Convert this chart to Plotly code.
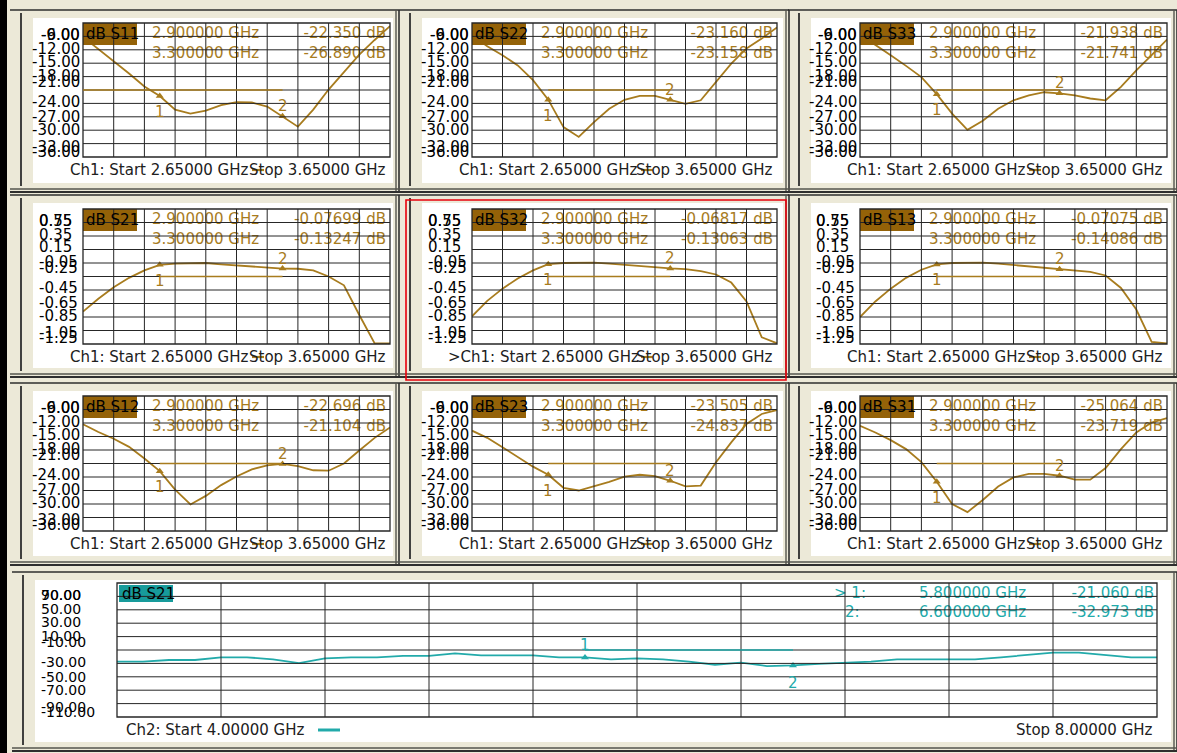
import plotly.graph_objects as go

W, H = 1177, 753

# ---------------- data ----------------
freq_ch1 = [2.65, 2.70, 2.75, 2.80, 2.85, 2.90, 2.95, 3.00, 3.05, 3.10, 3.15,
            3.20, 3.25, 3.30, 3.35, 3.40, 3.45, 3.50, 3.55, 3.60, 3.65]
s11_db = [-9.1, -11.8, -14.6, -17.3, -20.2, -22.35, -25.4, -26.3, -25.6, -24.4, -23.7,
          -23.8, -24.7, -26.89, -29.2, -25.4, -20.9, -17.0, -13.1, -9.8, -6.7]
s22_db = [-8.7, -11.2, -13.2, -15.5, -18.8, -23.16, -29.3, -31.5, -28.2, -25.2, -23.2,
          -22.3, -22.3, -23.16, -24.1, -23.3, -19.2, -15.1, -11.7, -9.5, -7.0]
s33_db = [-8.6, -10.8, -13.2, -15.6, -18.1, -21.94, -26.3, -29.9, -27.9, -25.2, -23.3,
          -22.2, -21.5, -21.74, -22.2, -22.9, -23.3, -20.3, -16.6, -13.2, -9.7]
s21_db = [-0.77, -0.58, -0.41, -0.27, -0.16, -0.077, -0.06, -0.05, -0.05, -0.07, -0.085,
          -0.10, -0.11, -0.132, -0.135, -0.16, -0.25, -0.38, -0.82, -1.24, -1.24]
s32_db = [-0.84, -0.61, -0.43, -0.28, -0.16, -0.068, -0.05, -0.045, -0.045, -0.06, -0.08,
          -0.10, -0.115, -0.131, -0.14, -0.17, -0.22, -0.34, -0.62, -1.15, -1.24]
s13_db = [-0.85, -0.62, -0.43, -0.27, -0.15, -0.071, -0.05, -0.045, -0.045, -0.06, -0.08,
          -0.10, -0.12, -0.141, -0.15, -0.18, -0.235, -0.42, -0.74, -1.22, -1.24]
s12_db = [-12.3, -14.0, -15.5, -17.3, -19.9, -22.70, -26.8, -30.1, -28.2, -25.8, -23.9,
          -22.3, -21.4, -21.10, -21.6, -22.5, -22.6, -21.0, -18.1, -15.3, -13.0]
s23_db = [-13.7, -15.3, -17.4, -19.5, -21.7, -23.51, -26.4, -27.0, -26.1, -25.1, -23.9,
          -23.5, -23.8, -24.84, -26.1, -25.9, -20.7, -16.3, -12.2, -10.0, -9.1]
s31_db = [-12.6, -14.1, -15.8, -17.8, -20.7, -25.06, -30.0, -31.8, -29.1, -26.1, -24.1,
          -23.3, -23.3, -23.72, -24.6, -24.6, -22.0, -17.8, -14.1, -11.9, -10.9]

freq_ch2 = [4.0, 4.1, 4.2, 4.3, 4.4, 4.5, 4.6, 4.7, 4.8, 4.9, 5.0, 5.1, 5.2, 5.3,
            5.4, 5.5, 5.6, 5.7, 5.8, 5.9, 6.0, 6.1, 6.2, 6.3, 6.4, 6.5, 6.6, 6.7,
            6.8, 6.9, 7.0, 7.1, 7.2, 7.3, 7.4, 7.5, 7.6, 7.7, 7.8, 7.9, 8.0]
s21_ch2_db = [-27.3, -27.3, -24.9, -24.9, -20.9, -20.9, -23.9, -29.5, -22.5, -20.9, -20.9,
              -18.9, -18.9, -14.9, -17.9, -17.9, -17.9, -20.9, -21.06, -23.9, -22.5, -23.9,
              -27.3, -32.0, -28.8, -34.0, -32.97, -30.8, -29.0, -27.3, -23.9, -23.9, -23.9,
              -23.9, -20.9, -17.4, -14.0, -14.0, -17.4, -20.9, -20.9]

marker_freq_ch1 = [2.9, 3.3]
marker_freq_ch2 = [5.8, 6.6]
marker_text_ch1 = ["2.900000 GHz", "3.300000 GHz"]
marker_text_ch2 = ["5.800000 GHz", "6.600000 GHz"]
readout_s11 = ["-22.350 dB", "-26.890 dB"]
readout_s22 = ["-23.160 dB", "-23.158 dB"]
readout_s33 = ["-21.938 dB", "-21.741 dB"]
readout_s21 = ["-0.07699 dB", "-0.13247 dB"]
readout_s32 = ["-0.06817 dB", "-0.13063 dB"]
readout_s13 = ["-0.07075 dB", "-0.14086 dB"]
readout_s12 = ["-22.696 dB", "-21.104 dB"]
readout_s23 = ["-23.505 dB", "-24.837 dB"]
readout_s31 = ["-25.064 dB", "-23.719 dB"]
readout_ch2 = ["-21.060 dB", "-32.973 dB"]

db_tick_labels = ["-6.00", "-9.00", "-12.00", "-15.00", "-18.00", "-21.00",
                  "-24.00", "-27.00", "-30.00", "-33.00", "-36.00"]
lin_tick_labels = ["0.75", "0.55", "0.35", "0.15", "-0.05", "-0.25",
                   "-0.45", "-0.65", "-0.85", "-1.05", "-1.25"]
ch2_tick_labels = ["90.00", "70.00", "50.00", "30.00", "10.00", "-10.00",
                   "-30.00", "-50.00", "-70.00", "-90.00", "-110.00"]

ch1_start = "Ch1: Start 2.65000 GHz"
ch1_stop = "Stop 3.65000 GHz"
ch2_start = "Ch2: Start 4.00000 GHz"
ch2_stop = "Stop 8.00000 GHz"

# ---------------- styling / layout geometry ----------------
FONT = "DejaVu Sans, Verdana, sans-serif"
BEIGE = "#ECE9D8"
GOLD = "#A87C1E"
GOLD_BOX = "#946208"
TEAL = "#22AAAA"
TEAL_BOX = "#179B9B"
GRID = "#262626"
FRAME = "#55554E"
DARK = "#2E2E2E"

col_grid = [(83, 390), (472, 777), (860, 1167)]
row_grid = [(23, 157), (209, 344), (396, 531)]
col_white = [(33, 393), (422, 783), (811, 1171)]
row_white = [(18, 183), (203, 368), (391, 556)]
bot_grid = ((117, 1157), (583, 717))
bot_white = ((35, 1171), (580, 742))
label_offsets = [12, 12, 26, 38.5, 53, 58.5, 79, 94, 106.5, 123.5, 128.5]


def X(p):
    return p / W


def Y(p):
    return 1 - p / H


fig = go.Figure()
shapes, annots, axes = [], [], {}


def pline(x0, y0, x1, y1, color, width=1, layer="below"):
    shapes.append(dict(type="line", xref="paper", yref="paper", x0=X(x0), y0=Y(y0),
                       x1=X(x1), y1=Y(y1), line=dict(color=color, width=width), layer=layer))


def prect(x0, y0, x1, y1, fill, lc=None, lw=0, layer="below"):
    shapes.append(dict(type="rect", xref="paper", yref="paper", x0=X(x0), y0=Y(y1),
                       x1=X(x1), y1=Y(y0), fillcolor=fill,
                       line=dict(color=lc if lc else "rgba(0,0,0,0)", width=lw), layer=layer))


def frame(wx, wy):
    wx0, wx1 = wx
    wy0, wy1 = wy
    pline(wx0 - 23, wy0 - 8, wx1 + 6, wy0 - 8, DARK, 1.4)
    pline(wx1 + 3, wy0 - 8, wx1 + 3, wy1 + 9, FRAME, 1.4)
    pline(wx1 + 6, wy0 - 8, wx1 + 6, wy1 + 9, DARK, 1.6)
    pline(wx0 - 23, wy1 + 6, wx1 + 6, wy1 + 6, FRAME, 1.4)
    pline(wx0 - 23, wy1 + 9, wx1 + 6, wy1 + 9, DARK, 1.8)
    pline(wx0 - 12, wy0 - 5, wx0 - 12, wy1 + 3, DARK, 1.8)
    prect(wx0, wy0, wx1, wy1, "#FFFFFF")


def txt(x, y, s, color, size=15, anchor="left"):
    annots.append(dict(xref="paper", yref="paper", x=X(x), y=Y(y), text=s, showarrow=False,
                       xanchor=anchor, yanchor="middle",
                       font=dict(family=FONT, size=size, color=color)))


def add_panel(i, gx, gy, xr, yr, xs, ys, name, mfreqs, mtexts, mvals, ticks, ch,
              ref_start=None, active=False):
    sfx = "" if i == 1 else str(i)
    xa, ya = "x" + sfx, "y" + sfx
    gx0, gx1 = gx
    gy0, gy1 = gy
    axes["xaxis" + sfx] = dict(domain=[X(gx0), X(gx1)], range=list(xr), visible=False,
                               anchor=ya, fixedrange=True)
    axes["yaxis" + sfx] = dict(domain=[Y(gy1), Y(gy0)], range=list(yr), visible=False,
                               anchor=xa, fixedrange=True)

    def dx(p):
        return xr[0] + (p - gx0) / (gx1 - gx0) * (xr[1] - xr[0])

    def dy(p):
        return yr[1] - (p - gy0) / (gy1 - gy0) * (yr[1] - yr[0])

    ref = (yr[0] + yr[1]) / 2
    color = GOLD if ch == 1 else TEAL
    boxc = GOLD_BOX if ch == 1 else TEAL_BOX
    mv = [ys[xs.index(m)] for m in mfreqs]
    common = dict(xaxis=xa, yaxis=ya, hoverinfo="skip", showlegend=False)

    # measurement trace
    fig.add_trace(go.Scatter(x=xs, y=ys, mode="lines",
                             line=dict(color=color, width=1.8), **common))
    # markers
    fig.add_trace(go.Scatter(x=mfreqs, y=mv, mode="markers",
                             marker=dict(symbol="triangle-up", size=7, color=color), **common))
    # reference-level indicators at both sides
    if ch == 1:
        fig.add_trace(go.Scatter(x=[dx(gx0 - 3), dx(gx1 + 3)], y=[ref, ref], mode="markers",
                                 marker=dict(symbol=["triangle-right", "triangle-left"],
                                             size=6, color=color),
                                 cliponaxis=False, **common))
    else:
        fig.add_trace(go.Scatter(x=[dx(gx0 - 4), dx(gx1 + 8)], y=[ref, ref], mode="markers",
                                 marker=dict(symbol="square", size=6, color=color),
                                 cliponaxis=False, **common))

    # marker readouts (drawn as text under the grid lines)
    if ch == 1:
        r1, r2 = gy0 + 11, gy0 + 31
        left_items = [(gx0 + 69, r1, mtexts[0]), (gx0 - 17, r2, ">"), (gx0 - 2, r2, "2:"),
                      (gx0 + 69, r2, mtexts[1])]
        right_items = [(gx1 - 4, r1, mvals[0]), (gx1 - 4, r2, mvals[1])]
        box = (gx0, gy0, gx0 + 54, gy0 + 22)
        boxtext = (gx0 + 1, gy0 + 11)
    else:
        r1, r2 = gy0 + 11, gy0 + 30
        left_items = [(gx0 + 717, r1, "> 1:"), (gx0 + 802, r1, mtexts[0]),
                      (gx0 + 728, r2, "2:"), (gx0 + 802, r2, mtexts[1])]
        right_items = [(gx1 - 3, r1, mvals[0]), (gx1 - 3, r2, mvals[1])]
        box = (gx0 + 2, gy0 + 2, gx0 + 56, gy0 + 19)
        boxtext = (gx0 + 3, gy0 + 10.5)
    fig.add_trace(go.Scatter(x=[dx(a) for a, _, _ in left_items],
                             y=[dy(b) for _, b, _ in left_items],
                             text=[t for _, _, t in left_items], mode="text",
                             textposition="middle right",
                             textfont=dict(family=FONT, size=15, color=color),
                             cliponaxis=False, **common))
    fig.add_trace(go.Scatter(x=[dx(a) for a, _, _ in right_items],
                             y=[dy(b) for _, b, _ in right_items],
                             text=[t for _, _, t in right_items], mode="text",
                             textposition="middle left",
                             textfont=dict(family=FONT, size=15, color=color),
                             cliponaxis=False, **common))

    # parameter box
    shapes.append(dict(type="rect", xref=xa, yref=ya, x0=dx(box[0]), x1=dx(box[2]),
                       y0=dy(box[3]), y1=dy(box[1]), fillcolor=boxc,
                       line=dict(width=0), layer="above"))
    txt(boxtext[0], boxtext[1], "dB " + name, "#000000", 15)

    # grid (inner lines) and frame
    for k in range(1, 10):
        xv = xr[0] + k * (xr[1] - xr[0]) / 10
        yv = yr[0] + k * (yr[1] - yr[0]) / 10
        shapes.append(dict(type="line", xref=xa, yref=ya, x0=xv, x1=xv, y0=yr[0], y1=yr[1],
                           line=dict(color=GRID, width=1), layer="above"))
        shapes.append(dict(type="line", xref=xa, yref=ya, x0=xr[0], x1=xr[1], y0=yv, y1=yv,
                           line=dict(color=GRID, width=1), layer="above"))
    prect(gx0, gy0, gx1, gy1, "rgba(0,0,0,0)", GRID, 1.3, layer="above")

    # reference-level line between markers (drawn over the grid)
    x_start = ref_start if ref_start is not None else mfreqs[0]
    shapes.append(dict(type="line", xref=xa, yref=ya, x0=x_start, x1=mfreqs[1], y0=ref, y1=ref,
                       line=dict(color=color, width=1.6), layer="above"))

    # marker numbers
    shifts = (-16, 10) if ch == 1 else (12, -18)
    for n, (mf, v) in enumerate(zip(mfreqs, mv)):
        annots.append(dict(xref=xa, yref=ya, x=mf, y=v, text=str(n + 1), showarrow=False,
                           yshift=shifts[n], xanchor="center", yanchor="middle",
                           font=dict(family=FONT, size=15, color=color)))

    # scale labels
    for k, t in enumerate(ticks):
        yp = gy0 + label_offsets[k]
        if ch == 2:
            txt(gx0 - 78, yp, t, "#000000", 14, "left")
        elif ticks is lin_tick_labels:
            txt(gx0 - 46, yp, t, "#000000", 15, "left")
        else:
            txt(gx0 - 1, yp, t, "#000000", 15, "right")

    # footer
    fy = gy1 + 13
    if ch == 1:
        if active:
            txt(gx0 - 26, fy, ">" + ch1_start, "#202020", 15)
        else:
            txt(gx0 - 15, fy, ch1_start, "#202020", 15)
        pline(gx0 + 169, fy, gx0 + 181, fy, color, 2.2, layer="above")
        txt(gx1 - 2, fy, ch1_stop, "#202020", 15, "right")
    else:
        txt(gx0 + 7, fy, ch2_start, "#202020", 15)
        pline(gx0 + 201, fy, gx0 + 223, fy, color, 3, layer="above")
        txt(gx1 - 2, fy, ch2_stop, "#202020", 15, "right")


# window background: black edge on the left
prect(0, 0, 7, H, "#000000")

# frames of all sub windows
for r in range(3):
    for c in range(3):
        frame(col_white[c], row_white[r])
frame(bot_white[0], bot_white[1])

ch1_params = [
    ("S11", s11_db, readout_s11, db_tick_labels, (-36, -6), 2.65),
    ("S22", s22_db, readout_s22, db_tick_labels, (-36, -6), None),
    ("S33", s33_db, readout_s33, db_tick_labels, (-36, -6), None),
    ("S21", s21_db, readout_s21, lin_tick_labels, (-1.25, 0.75), None),
    ("S32", s32_db, readout_s32, lin_tick_labels, (-1.25, 0.75), None),
    ("S13", s13_db, readout_s13, lin_tick_labels, (-1.25, 0.75), None),
    ("S12", s12_db, readout_s12, db_tick_labels, (-36, -6), None),
    ("S23", s23_db, readout_s23, db_tick_labels, (-36, -6), None),
    ("S31", s31_db, readout_s31, db_tick_labels, (-36, -6), None),
]

for idx, (name, vals, rd, ticks, yr, rs) in enumerate(ch1_params):
    r, c = divmod(idx, 3)
    add_panel(idx + 1, col_grid[c], row_grid[r], (2.65, 3.65), yr, freq_ch1, vals, name,
              marker_freq_ch1, marker_text_ch1, rd, ticks, 1, ref_start=rs,
              active=(name == "S32"))

add_panel(10, bot_grid[0], bot_grid[1], (4.0, 8.0), (-110, 90), freq_ch2, s21_ch2_db, "S21",
          marker_freq_ch2, marker_text_ch2, readout_ch2, ch2_tick_labels, 2)

# active window highlight
prect(406, 200, 786, 380, "rgba(0,0,0,0)", "#E8000B", 1.6)

fig.update_layout(width=W, height=H, autosize=False,
                  margin=dict(l=0, r=0, t=0, b=0, pad=0),
                  paper_bgcolor=BEIGE, plot_bgcolor="rgba(0,0,0,0)",
                  showlegend=False, hovermode=False,
                  shapes=shapes, annotations=annots, **axes)

fig.write_html("out.html",
               config={"displayModeBar": False, "staticPlot": True},
               post_script="document.body.style.margin='0px';"
                           "document.body.style.overflow='hidden';")
